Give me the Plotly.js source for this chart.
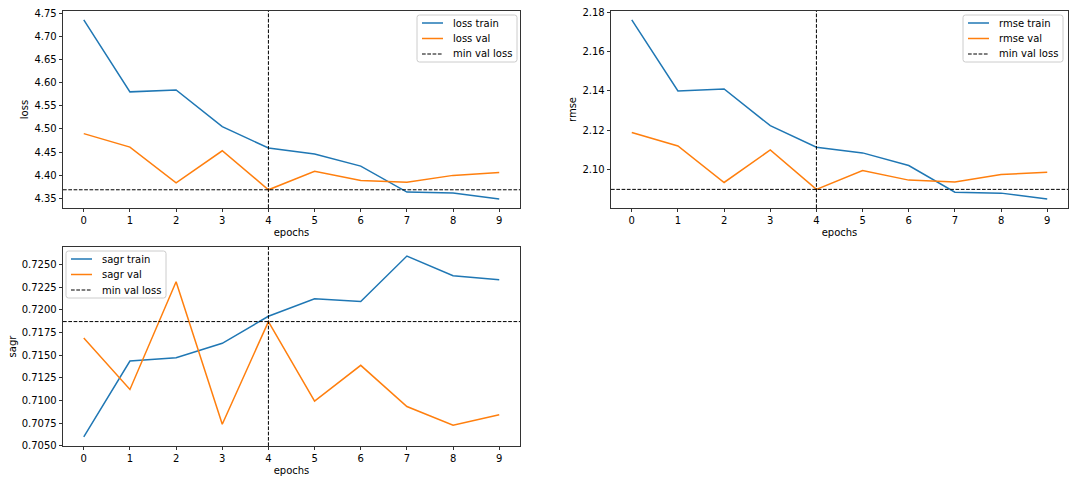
<!DOCTYPE html>
<html>
<head>
<meta charset="utf-8">
<script src="https://cdn.plot.ly/plotly-3.0.1.min.js"></script>
<style>html,body{margin:0;padding:0;background:#fff;}#chart{width:1074px;height:483px;}</style>
</head>
<body>
<div id="chart"></div>
<script>
const epochs = [0, 1, 2, 3, 4, 5, 6, 7, 8, 9];
const lossTrain = [4.735, 4.580, 4.584, 4.505, 4.459, 4.446, 4.420, 4.364, 4.362, 4.349];
const lossVal   = [4.490, 4.461, 4.384, 4.453, 4.369, 4.409, 4.389, 4.385, 4.400, 4.406];
const rmseTrain = [2.1760, 2.1400, 2.1410, 2.1224, 2.1115, 2.1086, 2.1022, 2.0887, 2.0882, 2.0852];
const rmseVal   = [2.1189, 2.1121, 2.0936, 2.1101, 2.0901, 2.0997, 2.0948, 2.0939, 2.0976, 2.0988];
const sagrTrain = [0.70596, 0.71434, 0.71470, 0.71629, 0.71928, 0.72120, 0.72090, 0.72592, 0.72375, 0.72330];
const sagrVal   = [0.71688, 0.71120, 0.72308, 0.70736, 0.71869, 0.70991, 0.71386, 0.70932, 0.70725, 0.70840];

const W = 1074, H = 483;
const BLUE = '#1f77b4', ORANGE = '#ff7f0e';
const DASH = '3.7px,1.6px';
const FONT = {family: 'DejaVu Sans, sans-serif', size: 10, color: '#000'};

// best epoch = argmin of validation loss
let best = 0;
lossVal.forEach((v, i) => { if (v < lossVal[best]) best = i; });
const bestEpoch = epochs[best];

function padRange(arrs) {
  const all = [].concat(...arrs);
  const mn = Math.min(...all), mx = Math.max(...all);
  const m = (mx - mn) * 0.05;
  return [mn - m, mx + m];
}
const xr = padRange([epochs]);
const px = v => v / W;
const py = v => 1 - v / H;

const panels = [
  {name: 'loss', train: lossTrain, val: lossVal, dtick: 0.05, fmt: '.2f', xa: 'x', ya: 'y', leg: {left: 417, top: 15}},
  {name: 'rmse', train: rmseTrain, val: rmseVal, dtick: 0.02, fmt: '.2f', xa: 'x2', ya: 'y2', leg: {left: 963, top: 15}},
  {name: 'sagr', train: sagrTrain, val: sagrVal, dtick: 0.0025, fmt: '.4f', xa: 'x3', ya: 'y3', leg: {left: 66, top: 251}},
];

const traces = [];
const shapes = [];
const annotations = [];

function roundRect(l, t, w, h, r) {
  const X = v => px(v), Y = v => py(v);
  return 'M' + X(l + r) + ',' + Y(t) + ' L' + X(l + w - r) + ',' + Y(t) +
    ' Q' + X(l + w) + ',' + Y(t) + ' ' + X(l + w) + ',' + Y(t + r) +
    ' L' + X(l + w) + ',' + Y(t + h - r) +
    ' Q' + X(l + w) + ',' + Y(t + h) + ' ' + X(l + w - r) + ',' + Y(t + h) +
    ' L' + X(l + r) + ',' + Y(t + h) +
    ' Q' + X(l) + ',' + Y(t + h) + ' ' + X(l) + ',' + Y(t + h - r) +
    ' L' + X(l) + ',' + Y(t + r) +
    ' Q' + X(l) + ',' + Y(t) + ' ' + X(l + r) + ',' + Y(t) + ' Z';
}

panels.forEach(p => {
  traces.push({x: epochs, y: p.train, type: 'scatter', mode: 'lines', name: p.name + ' train',
    line: {color: BLUE, width: 1.5}, xaxis: p.xa, yaxis: p.ya, showlegend: false, hoverinfo: 'skip'});
  traces.push({x: epochs, y: p.val, type: 'scatter', mode: 'lines', name: p.name + ' val',
    line: {color: ORANGE, width: 1.5}, xaxis: p.xa, yaxis: p.ya, showlegend: false, hoverinfo: 'skip'});
  const minV = p.val[best];
  shapes.push({type: 'line', xref: p.xa + ' domain', yref: p.ya, x0: 0, x1: 1, y0: minV, y1: minV,
    line: {color: '#000', width: 1, dash: DASH}});
  shapes.push({type: 'line', xref: p.xa, yref: p.ya + ' domain', x0: bestEpoch, x1: bestEpoch, y0: 0, y1: 1,
    line: {color: '#000', width: 1, dash: DASH}});

  // legend (matplotlib style)
  const L = p.leg.left, T = p.leg.top, LW = 100, LH = 47;
  shapes.push({type: 'path', xref: 'paper', yref: 'paper', path: roundRect(L, T, LW, LH, 2.5),
    fillcolor: 'rgba(255,255,255,0.8)', line: {color: '#cccccc', width: 1}, layer: 'above'});
  const items = [
    {label: p.name + ' train', color: BLUE, width: 1.5, dash: 'solid'},
    {label: p.name + ' val', color: ORANGE, width: 1.5, dash: 'solid'},
    {label: 'min val loss', color: '#000', width: 1, dash: DASH},
  ];
  items.forEach((it, i) => {
    const yc = T + 8 + i * 15.5;
    shapes.push({type: 'line', xref: 'paper', yref: 'paper', x0: px(L + 5), x1: px(L + 26), y0: py(yc), y1: py(yc),
      line: {color: it.color, width: it.width, dash: it.dash}, layer: 'above'});
    annotations.push({xref: 'paper', yref: 'paper', x: px(L + 34), y: py(yc), xanchor: 'left', yanchor: 'middle',
      text: it.label, showarrow: false, font: FONT});
  });
});

function xaxis(anchor, domain) {
  return {domain: domain, anchor: anchor, range: xr, dtick: 1, tick0: 0,
    showgrid: false, zeroline: false, showline: true, mirror: true, linecolor: '#000', linewidth: 0.8,
    ticks: 'outside', ticklen: 3.5, tickwidth: 0.8, tickcolor: '#000', tickfont: FONT,
    title: {text: 'epochs', font: FONT, standoff: 3}};
}
function yaxis(anchor, domain, p) {
  return {domain: domain, anchor: anchor, range: padRange([p.train, p.val]), dtick: p.dtick, tickformat: p.fmt,
    showgrid: false, zeroline: false, showline: true, mirror: true, linecolor: '#000', linewidth: 0.8,
    ticks: 'outside', ticklen: 3.5, tickwidth: 0.8, tickcolor: '#000', tickfont: FONT,
    title: {text: p.name, font: FONT, standoff: 3}};
}

const layout = {
  width: W, height: H, margin: {l: 0, r: 0, t: 0, b: 0},
  paper_bgcolor: '#fff', plot_bgcolor: '#fff', font: FONT, showlegend: false,
  xaxis: xaxis('y', [px(63), px(520)]),
  yaxis: yaxis('x', [py(208), py(11)], panels[0]),
  xaxis2: xaxis('y2', [px(611), px(1068)]),
  yaxis2: yaxis('x2', [py(208), py(11)], panels[1]),
  xaxis3: xaxis('y3', [px(63), px(520)]),
  yaxis3: yaxis('x3', [py(446), py(247)], panels[2]),
  shapes: shapes,
  annotations: annotations
};

Plotly.newPlot('chart', traces, layout, {staticPlot: true});
</script>
</body>
</html>
